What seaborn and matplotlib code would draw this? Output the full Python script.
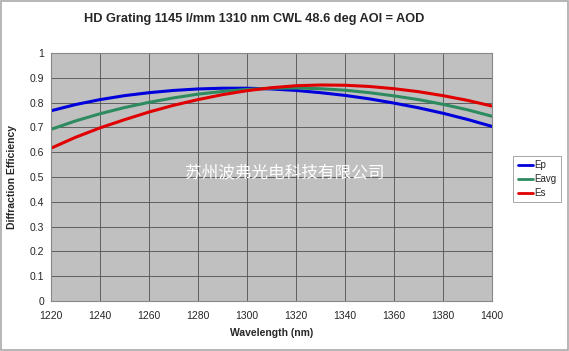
import seaborn as sns
import pandas as pd
import matplotlib.pyplot as plt
from matplotlib.patches import Rectangle

# wavelengths (nm) and efficiencies
wavelength = [1220, 1230, 1240, 1250, 1260, 1270, 1280, 1290, 1300, 1310,
              1320, 1330, 1340, 1350, 1360, 1370, 1380, 1390, 1400]
ep = [0.767, 0.792, 0.812, 0.828, 0.840, 0.849, 0.855, 0.858, 0.858, 0.855,
      0.849, 0.840, 0.829, 0.815, 0.798, 0.779, 0.757, 0.732, 0.704]
eavg = [0.692, 0.726, 0.755, 0.780, 0.801, 0.819, 0.834, 0.845, 0.853, 0.858,
        0.859, 0.856, 0.850, 0.840, 0.827, 0.812, 0.793, 0.771, 0.745]
es = [0.616, 0.660, 0.698, 0.731, 0.762, 0.789, 0.812, 0.832, 0.848, 0.860,
      0.868, 0.871, 0.870, 0.865, 0.856, 0.844, 0.828, 0.809, 0.786]
series_names = ['Ep', 'Eavg', 'Es']
series_colors = ['#0000DD', '#2E8B60', '#E00000']

df = pd.concat([
    pd.DataFrame({'Wavelength': wavelength, 'Eff': vals, 'Series': name})
    for name, vals in zip(series_names, [ep, eavg, es])
])

sns.set_style("white")
plt.rcParams['font.family'] = ['Liberation Sans', 'Noto Sans CJK SC', 'DejaVu Sans']

fig = plt.figure(figsize=(5.69, 3.51), dpi=100)
ax = fig.add_axes([0.0896, 0.1425, 0.7751, 0.7065])
ax.set_facecolor('#C0C0C0')

sns.lineplot(data=df, x='Wavelength', y='Eff', hue='Series',
             palette=dict(zip(series_names, series_colors)),
             linewidth=2.2, ax=ax, legend=False)

ax.set_xlim(1220, 1400)
ax.set_ylim(0, 1)
ax.set_xticks(range(1220, 1401, 20))
yt = [i / 10 for i in range(11)]
ax.set_yticks(yt)
ax.set_yticklabels(['0' if v == 0 else ('1' if v == 1 else f'{v:.1f}') for v in yt])
ax.tick_params(labelsize=7.5, length=3, direction='out', color='#444444', pad=2)
ax.tick_params(axis='x', pad=4)
ax.grid(True, color='#505050', linewidth=0.6)
ax.set_axisbelow(True)
for s in ax.spines.values():
    s.set_color('#888888')
    s.set_linewidth(0.8)

ax.set_xlabel('Wavelength (nm)', fontsize=7.5, fontweight='bold', labelpad=5)
ax.set_ylabel('Diffraction Efficiency', fontsize=7.5, fontweight='bold', labelpad=9)
fig.text(0.447, 0.945, 'HD Grating 1145 l/mm 1310 nm CWL 48.6 deg AOI = AOD',
         ha='center', va='center', fontsize=9.2, fontweight='bold')

ax.text(0.53, 0.515, '苏州波弗光电科技有限公司', transform=ax.transAxes,
        ha='center', va='center', fontsize=12, color='white',
        family=['Noto Sans CJK SC', 'DejaVu Sans'])

handles = [plt.Line2D([], [], color=c, linewidth=2) for c in series_colors]
leg = fig.legend(handles, series_names, loc='upper left',
                 bbox_to_anchor=(0.902, 0.556), fontsize=7,
                 handlelength=1.6, handletextpad=0.1, labelspacing=0.4,
                 borderpad=0.45, borderaxespad=0, fancybox=False, framealpha=1)
leg.get_frame().set_edgecolor('#999999')
leg.get_frame().set_linewidth(0.6)

fig.patches.append(Rectangle((0.002, 0.003), 0.996, 0.994, transform=fig.transFigure,
                             fill=False, edgecolor='#AAAAAA', linewidth=1.2))

fig.savefig('out.png', dpi=100)
